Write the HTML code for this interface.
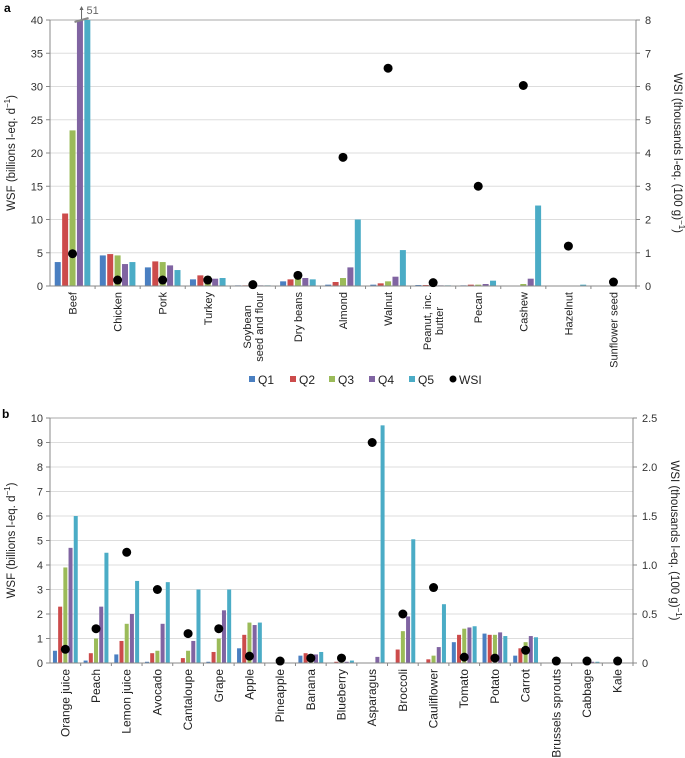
<!DOCTYPE html>
<html><head><meta charset="utf-8">
<style>
html,body{margin:0;padding:0;background:#fff;}
svg{display:block;font-family:"Liberation Sans",Arial,sans-serif;}
</style></head>
<body>
<svg id="chart" width="685" height="758" viewBox="0 0 685 758" xmlns="http://www.w3.org/2000/svg">
<text x="4" y="12" font-size="12" font-weight="bold">a</text>
<text x="2" y="418" font-size="12" font-weight="bold">b</text>
<g id="legend"></g>
</svg>
<script>
const seriesNames = ["Q1","Q2","Q3","Q4","Q5"];
const colors = ["#4a7fc1","#cc4b4b","#9bbb59","#8064a2","#4bacc6"];

const catsA = ["Beef","Chicken","Pork","Turkey","Soybean|seed and flour","Dry beans","Almond","Walnut","Peanut, inc.|butter","Pecan","Cashew","Hazelnut","Sunflower seed"];
const q1A = [3.6,4.6,2.8,1.0,0.1,0.7,0.2,0.2,0.15,0.1,0.05,0.02,0.05];
const q2A = [10.9,4.8,3.7,1.6,0.1,1.0,0.6,0.4,0.15,0.2,0.05,0.02,0.05];
const q3A = [23.4,4.6,3.6,1.5,0.1,1.2,1.2,0.7,0.1,0.2,0.3,0.02,0.02];
const q4A = [51,3.3,3.1,1.1,0.1,1.2,2.8,1.4,0.1,0.3,1.1,0.05,0.02];
const q5A = [45,3.6,2.4,1.2,0.1,1.0,10.0,5.4,0.1,0.8,12.1,0.2,0.05];
const wsiA = [0.97,0.18,0.18,0.18,0.04,0.32,3.87,6.55,0.1,3.0,6.03,1.2,0.12];
const leftTicksA = [0,5,10,15,20,25,30,35,40];
const rightTicksA = ["0","1","2","3","4","5","6","7","8"];

const catsB = ["Orange juice","Peach","Lemon juice","Avocado","Cantaloupe","Grape","Apple","Pineapple","Banana","Blueberry","Asparagus","Broccoli","Cauliflower","Tomato","Potato","Carrot","Brussels sprouts","Cabbage","Kale"];
const q1B = [0.5,0.1,0.35,0.05,0.02,0.05,0.6,0.02,0.3,0.02,0.02,0.02,0.02,0.85,1.2,0.3,0.02,0.02,0.02];
const q2B = [2.3,0.4,0.9,0.4,0.2,0.45,1.15,0.02,0.4,0.05,0.02,0.55,0.15,1.15,1.15,0.6,0.02,0.02,0.02];
const q3B = [3.9,1.0,1.6,0.5,0.5,1.0,1.65,0.02,0.35,0.05,0.02,1.3,0.3,1.4,1.15,0.85,0.02,0.02,0.02];
const q4B = [4.7,2.3,2.0,1.6,0.9,2.15,1.55,0.02,0.35,0.05,0.25,1.9,0.65,1.45,1.25,1.1,0.02,0.05,0.02];
const q5B = [6.0,4.5,3.35,3.3,3.0,3.0,1.65,0.02,0.45,0.1,9.7,5.05,2.4,1.5,1.1,1.05,0.02,0.05,0.02];
const wsiB = [0.14,0.35,1.13,0.75,0.3,0.35,0.07,0.02,0.05,0.05,2.25,0.5,0.77,0.06,0.05,0.13,0.02,0.02,0.02];
const leftTicksB = [0,1,2,3,4,5,6,7,8,9,10];
const rightTicksB = ["0","0.5","1.0","1.5","2.0","2.5"];

const NS="http://www.w3.org/2000/svg";
const svg=document.getElementById("chart");
function mk(tag,attrs,parent){const e=document.createElementNS(NS,tag);for(const k in attrs)e.setAttribute(k,attrs[k]);(parent||svg).appendChild(e);return e;}

function drawPanel(p){
  const g=mk("g",{});
  
  
  const yL=v=>p.y0-(Math.min(v,p.lmax)/p.lmax)*(p.y0-p.y1);
  const yR=v=>p.y0-(v/p.rmax)*(p.y0-p.y1);
  const n=p.cats.length, bw=(p.x1-p.x0)/n;
  const xC=i=>p.x0+bw*(i+0.5);
  p.lt.forEach(t=>{
    const y=yL(t);
    if(t>0){const gl=mk("line",{x1:p.x0,x2:p.x1,y1:y,y2:y,stroke:"#ddd","stroke-width":1},g);
      
      }
    mk("line",{x1:p.x0-4,x2:p.x0,y1:y,y2:y,stroke:"#888"},g);
    const tx=mk("text",{x:p.x0-7,y:y+4,"font-size":11,"text-anchor":"end",fill:"#333"},g);
    tx.textContent=t;
    
    
  });
  p.rt.forEach((t,i)=>{
    const y=yR(parseFloat(t));
    mk("line",{x1:p.x1,x2:p.x1+4,y1:y,y2:y,stroke:"#888"},g);
    const tx=mk("text",{x:p.x1+9,y:y+4,"font-size":11,fill:"#333"},g);
    tx.textContent=t;
    
    
  });
  mk("line",{x1:p.x0,x2:p.x1,y1:p.y1,y2:p.y1,stroke:"#aaa"},g);
  mk("line",{x1:p.x0,x2:p.x0,y1:p.y1,y2:p.y0,stroke:"#888"},g);
  mk("line",{x1:p.x1,x2:p.x1,y1:p.y1,y2:p.y0,stroke:"#888"},g);
  const bwid=p.barW, gap=p.gap;
  p.cats.forEach((c,i)=>{
    const start=xC(i)-(5*bwid+4*gap)/2;
    p.series.forEach((s,j)=>{
      const v=s[i], y=yL(v);
      const r=mk("rect",{x:start+j*(bwid+gap),y:y,width:bwid,height:Math.max(p.y0-y,0.6),fill:colors[j]},g);
      
      
    });
    mk("line",{x1:p.x0+bw*(i+1),x2:p.x0+bw*(i+1),y1:p.y0,y2:p.y0+3,stroke:"#888"},g);
    const lines=c.split("|");
    if(lines.length===1){
      const lbl=mk("text",{transform:`translate(${xC(i)+4},${p.y0+6}) rotate(-90)`,"font-size":p.fs,"text-anchor":"end",fill:"#222"},g);
      lbl.textContent=c;
      
      
    } else {
      const lbl=mk("text",{"font-size":p.fs,"text-anchor":"middle",fill:"#222"},g);
      
      
      lines.forEach((l,k)=>{const ts=mk("tspan",{x:0,y:(k-(lines.length-1)/2)*12},lbl);ts.textContent=l;});
      const maxLen=Math.max(...Array.from(lbl.children).map(t=>t.getComputedTextLength()));
      lbl.setAttribute("transform",`translate(${xC(i)+4},${p.y0+6+maxLen/2}) rotate(-90)`);
    }
  });
  mk("line",{x1:p.x0,x2:p.x1,y1:p.y0,y2:p.y0,stroke:"#888"},g);
  p.wsi.forEach((v,i)=>{
    const d=mk("circle",{cx:xC(i),cy:yR(v),r:4.5,fill:"#000"},g);
    
    
  });
  const my=(p.y0+p.y1)/2;
  const la=mk("text",{transform:`translate(15,${my}) rotate(-90)`,"font-size":11.5,"text-anchor":"middle",fill:"#222"},g);
  la.innerHTML='WSF (billions l-eq. d<tspan dy="-5" font-size="8">−1</tspan><tspan dy="5">)</tspan>';
  
  
  const ra=mk("text",{transform:`translate(${p.x1+38},${my}) rotate(90)`,"font-size":11.5,"text-anchor":"middle",fill:"#222"},g);
  ra.innerHTML='WSI (thousands l-eq. (100 g)<tspan dy="-5" font-size="8">−1</tspan><tspan dy="5">)</tspan>';
  
  
  return {xC,yL,bwid,gap};
}

const a=drawPanel({name:"panel-a",cats:catsA,series:[q1A,q2A,q3A,q4A,q5A],wsi:wsiA,x0:50,x1:636,y0:286,y1:20,lmax:40,rmax:8,lt:leftTicksA,rt:rightTicksA,barW:6,gap:1.4,fs:11});
(function(){const x=a.xC(0)+6;const t=mk("text",{x:x+8,y:14,"font-size":11,fill:"#666"});t.textContent="51";


mk("line",{x1:x+3,x2:x+3,y1:20,y2:7,stroke:"#666"});
mk("path",{d:`M${x+1},10 L${x+3},6 L${x+5},10`,fill:"#666"});
mk("line",{x1:x-4,x2:x+10,y1:22,y2:18,stroke:"#888","stroke-width":2});})();

drawPanel({name:"panel-b",cats:catsB,series:[q1B,q2B,q3B,q4B,q5B],wsi:wsiB,x0:50,x1:633,y0:663,y1:418,lmax:10,rmax:2.5,lt:leftTicksB,rt:rightTicksB,barW:4,gap:1.2,fs:12});

const lg=document.getElementById("legend");
const legX=[249,290,329,369,409];
seriesNames.forEach((s,j)=>{
  const r=mk("rect",{x:legX[j],y:376,width:6,height:6,fill:colors[j]},lg);
  
  
  const t=mk("text",{x:legX[j]+9,y:384,"font-size":12,fill:"#222"},lg);
  t.textContent=s;
  
  
});
const c=mk("circle",{cx:453,cy:379,r:3.5,fill:"#000"},lg);


const wt=mk("text",{x:459,y:384,"font-size":12,fill:"#222"},lg);
wt.textContent="WSI";


</script>
</body></html>
